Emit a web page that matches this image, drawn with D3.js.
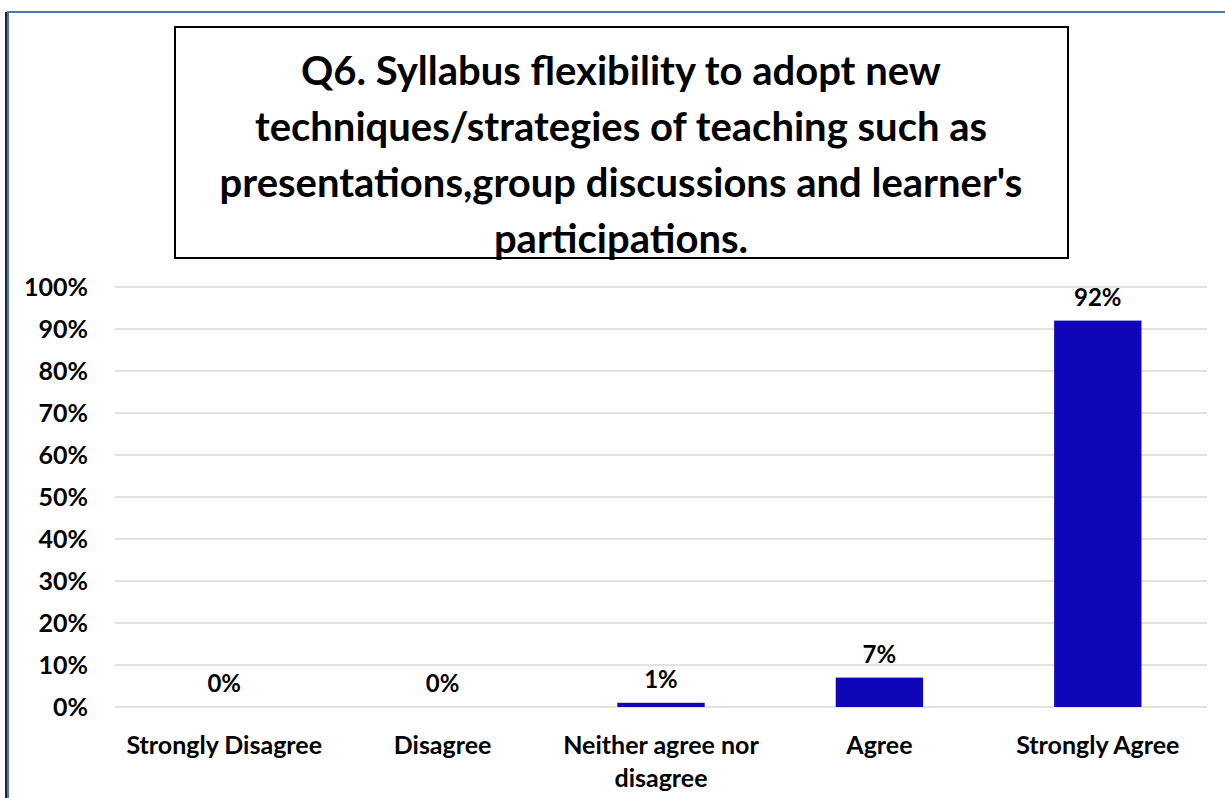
<!DOCTYPE html>
<html>
<head>
<meta charset="utf-8">
<script src="https://cdn.jsdelivr.net/npm/d3@7"></script>
<style>
  body { margin: 0; background: #fff; }
  svg { display: block; font-family: Lato, "Open Sans", sans-serif; font-weight: bold; }
</style>
</head>
<body>
<svg id="chart" width="1225" height="798"></svg>
<script>
// Chart data
const categories = ['Strongly Disagree', 'Disagree', 'Neither agree nor disagree', 'Agree', 'Strongly Agree'];
const values = [0, 0, 1, 7, 92];
const yTicks = [0, 10, 20, 30, 40, 50, 60, 70, 80, 90, 100];
const titleLines = [
  'Q6. Syllabus flexibility to adopt new',
  'techniques/strategies of teaching such as',
  "presentations,group discussions and learner's",
  'participations.'
];

const width = 1225;
const height = 798;
const margin = { top: 287, right: 18, bottom: 91, left: 115 };

const svg = d3.select('#chart');

// Outer chart border
svg.append('line')
  .attr('x1', 6).attr('y1', 12).attr('x2', 6).attr('y2', height)
  .attr('stroke', '#222').attr('stroke-width', 2);
svg.append('rect')
  .attr('x', 8).attr('y', 12)
  .attr('width', width).attr('height', height)
  .attr('fill', 'none')
  .attr('stroke', '#4a78ae')
  .attr('stroke-width', 2);

// Title box
svg.append('rect')
  .attr('x', 175).attr('y', 27)
  .attr('width', 893).attr('height', 231)
  .attr('fill', '#fff')
  .attr('stroke', '#000')
  .attr('stroke-width', 2);

svg.append('g')
  .selectAll('text')
  .data(titleLines)
  .join('text')
  .attr('x', 621)
  .attr('y', (d, i) => 85 + i * 56)
  .attr('text-anchor', 'middle')
  .attr('font-size', 40)
  .attr('fill', '#000')
  .text(d => d);

const x = d3.scaleBand()
  .domain(categories)
  .range([margin.left, width - margin.right])
  .paddingInner(0.6)
  .paddingOuter(0.3);

const y = d3.scaleLinear()
  .domain([0, 100])
  .range([height - margin.bottom, margin.top]);

// Gridlines
svg.append('g')
  .selectAll('line')
  .data(yTicks)
  .join('line')
  .attr('x1', margin.left)
  .attr('x2', width - margin.right)
  .attr('y1', d => y(d))
  .attr('y2', d => y(d))
  .attr('stroke', '#d9d9d9')
  .attr('stroke-width', 1.5);

// Y axis labels
const yAxis = d3.axisLeft(y)
  .tickValues(yTicks)
  .tickFormat(d => d + '%')
  .tickSize(0)
  .tickPadding(0);

svg.append('g')
  .attr('transform', `translate(88,0)`)
  .call(yAxis)
  .call(g => g.select('.domain').remove())
  .selectAll('text')
  .attr('font-family', 'Lato, sans-serif')
  .attr('font-weight', 'bold')
  .attr('font-size', 25)
  .attr('fill', '#000')
  .attr('dy', '0.35em');

// Bars
svg.append('g')
  .selectAll('rect')
  .data(values)
  .join('rect')
  .attr('x', (d, i) => x(categories[i]))
  .attr('y', d => y(d))
  .attr('width', x.bandwidth())
  .attr('height', d => y(0) - y(d))
  .attr('fill', '#0f06b9');

// Data labels
svg.append('g')
  .selectAll('text')
  .data(values)
  .join('text')
  .attr('x', (d, i) => x(categories[i]) + x.bandwidth() / 2)
  .attr('y', d => y(d) - 15)
  .attr('text-anchor', 'middle')
  .attr('font-size', 24)
  .attr('fill', '#000')
  .text(d => d + '%');

// Category labels (wrapped like the original)
const catLines = categories.map(c => c === 'Neither agree nor disagree' ? ['Neither agree nor', 'disagree'] : [c]);
const catG = svg.append('g')
  .selectAll('text')
  .data(categories)
  .join('text')
  .attr('x', d => x(d) + x.bandwidth() / 2)
  .attr('y', 754)
  .attr('text-anchor', 'middle')
  .attr('font-size', 25)
  .attr('fill', '#000');

catG.selectAll('tspan')
  .data((d, i) => catLines[i])
  .join('tspan')
  .attr('x', function () { return d3.select(this.parentNode).attr('x'); })
  .attr('dy', (d, i) => i === 0 ? 0 : 33)
  .text(d => d);
</script>
</body>
</html>
